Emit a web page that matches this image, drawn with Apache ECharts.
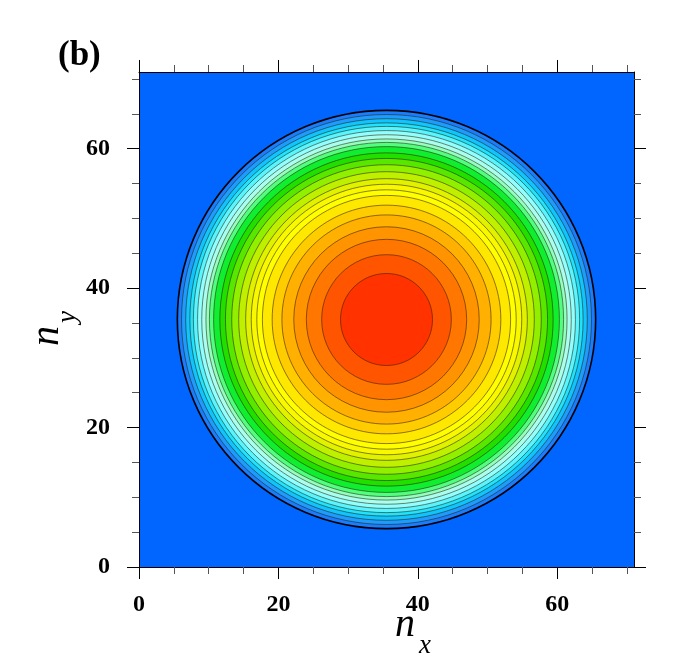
<!DOCTYPE html>
<html>
<head>
<meta charset="utf-8">
<title>contour (b)</title>
<script src="https://cdn.jsdelivr.net/npm/echarts@6/dist/echarts.min.js"></script>
<style>
  html, body { margin: 0; padding: 0; background: #fff; }
  #chart { width: 674px; height: 665px; }
</style>
</head>
<body>
<div id="chart"></div>
<script>
// 中心位置 (n_x, n_y)
const centerX = 35.5
const centerY = 35.5
// 等值线半径, 从外到内
const levelRadius = [30.0, 29.4, 28.8, 28.2, 27.7, 27.1, 26.5, 25.9, 25.4, 24.8,
  23.9, 23.1, 22.2, 21.2, 20.2, 19.4, 18.6, 17.8, 16.4, 15.0, 13.3, 11.5, 9.3, 6.6]
// 刻度
const majorTicks = [0, 20, 40, 60]
const minorTicks = [5, 10, 15, 25, 30, 35, 45, 50, 55, 65, 70]
const axisMax = 71

// 每一层的填充颜色 (style)
const levelColors = ['#1a7cff', '#1c9cff', '#10c4ff', '#20e4ff', '#58f4ff', '#90ffff',
  '#a8fff0', '#90ffc0', '#50ff80', '#10ee30', '#20e000', '#58e800', '#90f000',
  '#bef000', '#e0f200', '#f8f800', '#ffff00', '#ffe800', '#ffcc00', '#ffb000',
  '#ff9400', '#ff7600', '#ff5400', '#ff3200']

const serif = '"Liberation Serif", "DejaVu Serif", serif'

const chart = echarts.init(document.getElementById('chart'))

function makeAxis(position, ticks, len, color, main) {
  return {
    type: 'value',
    position: position,
    min: 0,
    max: axisMax,
    axisLine: { show: main, onZero: false, lineStyle: { color: '#000', width: 1 } },
    axisTick: { show: true, customValues: ticks, length: len, lineStyle: { color: color, width: 1 } },
    axisLabel: {
      show: main && (position === 'bottom' || position === 'left'),
      customValues: majorTicks,
      margin: position === 'bottom' ? 26 : 29,
      color: '#000',
      fontFamily: serif,
      fontWeight: 'bold',
      fontSize: 24
    },
    splitLine: { show: false }
  }
}

const option = {
  animation: false,
  grid: {
    left: 139,
    top: 72,
    width: 495,
    height: 495,
    show: true,
    backgroundColor: '#0066ff',
    borderWidth: 0
  },
  xAxis: [
    makeAxis('bottom', majorTicks, 12, '#000', true),
    makeAxis('bottom', minorTicks, 7, '#555', false),
    makeAxis('top', majorTicks, 12, '#000', true),
    makeAxis('top', minorTicks, 7, '#555', false)
  ],
  yAxis: [
    makeAxis('left', majorTicks, 12, '#000', true),
    makeAxis('left', minorTicks, 7, '#555', false),
    makeAxis('right', majorTicks, 12, '#000', true),
    makeAxis('right', minorTicks, 7, '#555', false)
  ],
  series: [
    {
      type: 'custom',
      xAxisIndex: 0,
      yAxisIndex: 0,
      clip: true,
      data: levelRadius.map((r, i) => [centerX, centerY, r, i]),
      encode: { x: 0, y: 1 },
      renderItem(params, api) {
        const c = api.coord([api.value(0), api.value(1)])
        const s = api.size([api.value(2), api.value(2)])
        const i = api.value(3)
        return {
          type: 'ellipse',
          shape: { cx: c[0], cy: c[1], rx: s[0], ry: s[1] },
          style: {
            fill: levelColors[i],
            stroke: i === 0 ? '#000' : 'rgba(50,30,0,0.8)',
            lineWidth: i === 0 ? 1.6 : 0.7
          }
        }
      }
    }
  ],
  graphic: [
    {
      type: 'text', left: 58, top: 38,
      style: { text: '(b)', font: 'bold 35px ' + serif, fill: '#000' }
    },
    {
      type: 'text', x: 395, y: 645,
      style: { text: 'n', font: 'italic 40px ' + serif, fill: '#000', textVerticalAlign: 'bottom' }
    },
    {
      type: 'text', x: 419, y: 659,
      style: { text: 'x', font: 'italic 27px ' + serif, fill: '#000', textVerticalAlign: 'bottom' }
    },
    {
      type: 'group', x: 67, y: 346, rotation: Math.PI / 2,
      children: [
        { type: 'text', x: 0, y: 0, style: { text: 'n', font: 'italic 40px ' + serif, fill: '#000', textVerticalAlign: 'bottom' } },
        { type: 'text', x: 23, y: 14, style: { text: 'y', font: 'italic 27px ' + serif, fill: '#000', textVerticalAlign: 'bottom' } }
      ]
    }
  ]
}

chart.setOption(option)
</script>
</body>
</html>
